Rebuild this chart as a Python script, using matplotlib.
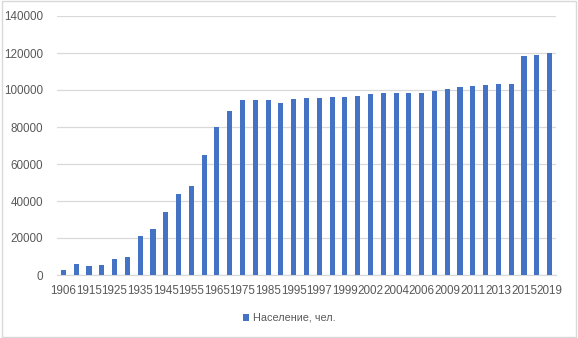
import matplotlib.pyplot as plt
import numpy as np
from matplotlib.patches import Rectangle

plt.rcParams['font.family'] = ['Liberation Sans', 'DejaVu Sans']

# years (every other one is labelled on the axis)
years = ['1906', '1910', '1915', '1920', '1925', '1930', '1935', '1940', '1945', '1950',
         '1955', '1960', '1965', '1970', '1975', '1980', '1985', '1990', '1995', '1996',
         '1997', '1998', '1999', '2001', '2002', '2003', '2004', '2005', '2006', '2008',
         '2009', '2010', '2011', '2012', '2013', '2014', '2015', '2017', '2019']
population = [2700, 5900, 4800, 5200, 8400, 10000, 21000, 24800, 33900, 43600,
              48300, 65000, 80000, 88500, 94800, 94800, 94400, 93200, 95200, 95500,
              95900, 96200, 96400, 96900, 98000, 98400, 98400, 98400, 98400, 99600,
              100300, 101600, 101900, 102700, 103200, 103500, 118600, 119000, 120000]
series_name = 'Население, чел.'

fig = plt.figure(figsize=(5.78, 3.38), dpi=100)
ax = fig.add_axes([57/578, 1 - 275/338, (556 - 57)/578, (275 - 16)/338])

x = np.arange(len(years))
ax.bar(x, population, width=0.4, color='#4472C4', label=series_name, zorder=3)

ax.set_xlim(-0.5, len(years) - 0.5)
ax.set_ylim(0, 140000)
ax.set_yticks(range(0, 140001, 20000))
ax.set_xticks(x[::2])
ax.set_xticklabels(years[::2])
ax.grid(axis='y', color='#D9D9D9', linewidth=0.9, zorder=0)

for s in ['top', 'right', 'left']:
    ax.spines[s].set_visible(False)
ax.spines['bottom'].set_color('#D9D9D9')
ax.spines['bottom'].set_linewidth(0.9)
ax.tick_params(length=0, labelsize=8.4, colors='#595959')
ax.tick_params(axis='y', pad=10)
ax.tick_params(axis='x', pad=7)

fig.legend(loc='center', bbox_to_anchor=(0.5, 1 - 318/338), frameon=False,
           fontsize=7.8, labelcolor='#595959', handlelength=0.6, handleheight=0.6,
           handletextpad=0.3)

fig.patches.append(Rectangle((0.003, 0.004), 0.994, 0.992, transform=fig.transFigure,
                             fill=False, edgecolor='#D9D9D9', linewidth=1))

fig.savefig('out.png', dpi=100)
